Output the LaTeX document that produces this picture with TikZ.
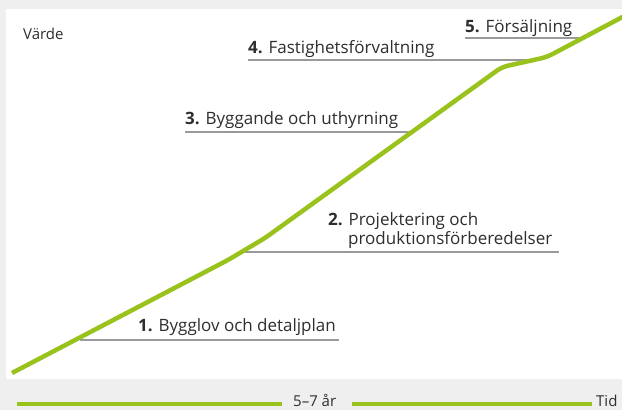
\documentclass[tikz,border=0pt]{standalone}
\usepackage{fontspec}
\setmainfont{Open Sans}
\definecolor{bggray}{HTML}{EFEFEF}
\definecolor{leaf}{HTML}{99C31C}
\definecolor{rulegray}{HTML}{9A9A9A}
\definecolor{ink}{HTML}{2E2E2E}
\begin{document}
\begin{tikzpicture}[x=1pt,y=-1pt,
  lbl/.style={anchor=base west,inner sep=0pt,text=ink,font=\fontsize{17}{19}\selectfont},
  small/.style={anchor=base west,inner sep=0pt,text=ink,font=\fontsize{15}{17}\selectfont},
  rule/.style={draw=rulegray,line width=1.3pt},
  valuecurve/.style={draw=leaf,line width=4.5pt,rounded corners=6pt},
  timeline/.style={draw=leaf,line width=3.4pt}]
  % page and panel
  \fill[bggray] (0,0) rectangle (622,410);
  \useasboundingbox (0,0) rectangle (622,410);
  \fill[white] (6,9) rectangle (622,379);

  % axis label
  \node[small] (varde) at (23,39) {Värde};

  % phase labels
  \node[lbl] (p1) at (138,331) {\textbf{1.} Bygglov och detaljplan};
  \node[lbl] (p2a) at (328,225) {\textbf{2.} Projektering och};
  \node[lbl] (p2b) at (348,244) {produktionsförberedelser};
  \node[lbl] (p3) at (185,124) {\textbf{3.} Byggande och uthyrning};
  \node[lbl] (p4) at (248,53) {\textbf{4.} Fastighetsförvaltning};
  \node[lbl] (p5) at (465,32) {\textbf{5.} Försäljning};

  % underlines, each running into the value curve
  \coordinate (r1a) at (80,340);  \coordinate (r1b) at (339,340);
  \coordinate (r2a) at (245,252); \coordinate (r2b) at (559,252);
  \coordinate (r3a) at (185,132); \coordinate (r3b) at (413,132);
  \coordinate (r4a) at (248,60);  \coordinate (r4b) at (532,60);
  \coordinate (r5a) at (465,38);  \coordinate (r5b) at (583,38);
  \draw[rule] (r1a) -- (r1b);
  \draw[rule] (r2a) -- (r2b);
  \draw[rule] (r3a) -- (r3b);
  \draw[rule] (r4a) -- (r4b);
  \draw[rule] (r5a) -- (r5b);

  % value curve
  \draw[valuecurve] (12,373) -- (228,260) -- (265,238) -- (502,67) -- (547,57) -- (630,13);

  % time axis
  \node[small] (span) at (293,406.5) {5–7 år};
  \node[small] (tid) at (596,406.5) {Tid};
  \coordinate (t0) at (17,404);
  \draw[timeline] (t0) -- ([xshift=-11pt]span.west |- t0);
  \draw[timeline] ([xshift=16pt]span.east |- t0) -- ([xshift=-4pt]tid.west |- t0);
\end{tikzpicture}
\end{document}
